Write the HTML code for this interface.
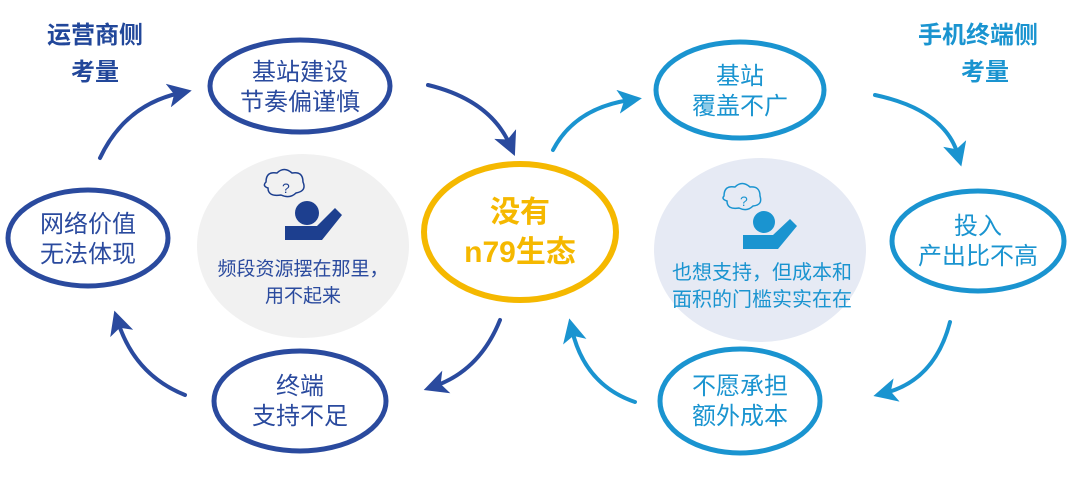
<!DOCTYPE html>
<html><head><meta charset="utf-8"><style>
body{margin:0;background:#fff;width:1080px;height:474px;overflow:hidden}
text{font-family:"Liberation Sans","Noto Sans CJK SC",sans-serif}
</style></head><body>
<svg width="1080" height="474" viewBox="0 0 1080 474">
<defs>
<marker id="ad" markerWidth="6" markerHeight="6" refX="3" refY="3" orient="auto" markerUnits="strokeWidth"><path d="M0,0 L6,3 L0,6 L1.5,3z" fill="#2a4a9e"/></marker>
<marker id="al" markerWidth="6" markerHeight="6" refX="3" refY="3" orient="auto" markerUnits="strokeWidth"><path d="M0,0 L6,3 L0,6 L1.5,3z" fill="#1a94d0"/></marker>
</defs>
<ellipse cx="303" cy="246" rx="106" ry="92" fill="#f1f1f1"/>
<ellipse cx="760" cy="250" rx="106" ry="92" fill="#e6eaf4"/>
<g fill="#1d3f8f"><circle cx="307" cy="213" r="12"/><path d="M285,226 h32 l18,-18 7,7 -20,25 h-37z"/></g>
<path d="M266,182 q0,-11 11,-9 q7,-7 15,0 q11,-2 11,9 q4,9 -7,11 q-6,6 -15,2 q-13,2 -13,-7 q-6,-2 -2,-6z" fill="none" stroke="#1d3f8f" stroke-width="1.5"/>
<text x="282" y="193" font-size="14" fill="#1d3f8f">?</text>
<g fill="#1a94d0"><circle cx="764" cy="222" r="11"/><path d="M743,235 h30 l17,-16 7,7 -19,23 h-35z"/></g>
<path d="M724,196 q0,-11 11,-9 q7,-7 15,0 q10,-1 10,9 q3,9 -7,10 q-6,6 -14,2 q-12,2 -12,-7 q-6,-2 -3,-5z" fill="none" stroke="#1a94d0" stroke-width="1.5"/>
<text x="740" y="206" font-size="14" fill="#1a94d0">?</text>
<text x="303" y="275" font-size="19" fill="#2a4a9e" text-anchor="middle">频段资源摆在那里，</text>
<text x="303" y="302" font-size="19" fill="#2a4a9e" text-anchor="middle">用不起来</text>
<text x="762" y="279" font-size="20" fill="#1a94d0" text-anchor="middle">也想支持，但成本和</text>
<text x="762" y="306" font-size="20" fill="#1a94d0" text-anchor="middle">面积的门槛实实在在</text>
<g fill="none" stroke-width="5">
<ellipse cx="300" cy="86" rx="90" ry="46" stroke="#2a4a9e"/>
<ellipse cx="88" cy="238" rx="80" ry="48" stroke="#2a4a9e"/>
<ellipse cx="300" cy="401" rx="86" ry="50" stroke="#2a4a9e"/>
<ellipse cx="520" cy="232" rx="96" ry="68" stroke="#f5b800" stroke-width="6"/>
<ellipse cx="740" cy="90" rx="84" ry="48" stroke="#1a94d0"/>
<ellipse cx="978" cy="241" rx="86" ry="50" stroke="#1a94d0"/>
<ellipse cx="740" cy="401" rx="80" ry="52" stroke="#1a94d0"/>
</g>
<g font-size="24" text-anchor="middle">
<text x="300" y="80" fill="#2a4a9e">基站建设</text><text x="300" y="110" fill="#2a4a9e">节奏偏谨慎</text>
<text x="88" y="232" fill="#2a4a9e">网络价值</text><text x="88" y="262" fill="#2a4a9e">无法体现</text>
<text x="300" y="394" fill="#2a4a9e">终端</text><text x="300" y="424" fill="#2a4a9e">支持不足</text>
<text x="740" y="84" fill="#1a94d0">基站</text><text x="740" y="114" fill="#1a94d0">覆盖不广</text>
<text x="978" y="234" fill="#1a94d0">投入</text><text x="978" y="264" fill="#1a94d0">产出比不高</text>
<text x="740" y="394" fill="#1a94d0">不愿承担</text><text x="740" y="424" fill="#1a94d0">额外成本</text>
</g>
<text x="520" y="222" font-size="30" font-weight="bold" fill="#f5b800" text-anchor="middle">没有</text>
<text x="520" y="262" font-size="30" font-weight="bold" fill="#f5b800" text-anchor="middle">n79生态</text>
<g font-size="24" font-weight="bold" fill="#22479a" text-anchor="middle">
<text x="95" y="43">运营商侧</text><text x="95" y="80">考量</text>
</g>
<g font-size="24" font-weight="bold" fill="#1a94d0" text-anchor="middle">
<text x="978" y="43">手机终端侧</text><text x="985" y="80">考量</text>
</g>
<g fill="none" stroke-width="4" stroke-linecap="round">
<path d="M100,158 Q125,105 180,93" stroke="#2a4a9e" marker-end="url(#ad)"/>
<path d="M428,85 Q490,100 510,145" stroke="#2a4a9e" marker-end="url(#ad)"/>
<path d="M500,320 Q480,370 435,386" stroke="#2a4a9e" marker-end="url(#ad)"/>
<path d="M185,395 Q135,375 118,322" stroke="#2a4a9e" marker-end="url(#ad)"/>
<path d="M553,150 Q575,108 630,100" stroke="#1a94d0" marker-end="url(#al)"/>
<path d="M875,95 Q945,110 958,155" stroke="#1a94d0" marker-end="url(#al)"/>
<path d="M950,322 Q935,380 885,393" stroke="#1a94d0" marker-end="url(#al)"/>
<path d="M635,402 Q585,385 572,330" stroke="#1a94d0" marker-end="url(#al)"/>
</g>
</svg>
</body></html>
